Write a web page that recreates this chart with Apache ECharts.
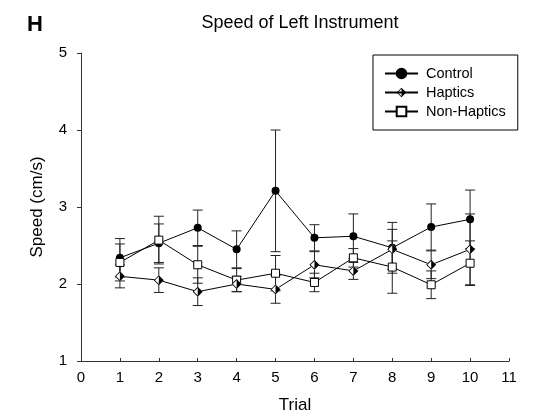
<!DOCTYPE html>
<html>
<head>
<meta charset="utf-8">
<script src="https://cdn.jsdelivr.net/npm/echarts@6/dist/echarts.min.js"></script>
<style>
  html, body { margin: 0; padding: 0; background: #fff; }
  #main { width: 537px; height: 419px; }
</style>
</head>
<body>
<div id="main"></div>
<script>
// data (mean and error per trial)
var trials = [1, 2, 3, 4, 5, 6, 7, 8, 9, 10];
var controlMean = [2.34, 2.53, 2.73, 2.45, 3.21, 2.60, 2.62, 2.47, 2.74, 2.84];
var controlErr = [0.25, 0.25, 0.23, 0.24, 0.79, 0.17, 0.29, 0.33, 0.30, 0.38];
var hapticsMean = [2.10, 2.05, 1.90, 2.00, 1.93, 2.25, 2.17, 2.45, 2.25, 2.45];
var hapticsErr = [0.15, 0.16, 0.18, 0.10, 0.18, 0.17, 0.11, 0.26, 0.18, 0.46];
var nonHapticsMean = [2.28, 2.57, 2.25, 2.05, 2.14, 2.02, 2.34, 2.22, 1.99, 2.27];
var nonHapticsErr = [0.24, 0.31, 0.24, 0.15, 0.23, 0.12, 0.12, 0.34, 0.18, 0.29];

var FONT = 'Arial, "Liberation Sans", sans-serif';
// diamond with right half black, left half hollow
var HALF_DIAMOND = 'path://M0,-10L10,0L0,10L-10,0ZM0,-7.6L-7.6,0L0,7.6Z';

function pts(vals) {
    return trials.map(function (t, i) { return [t, vals[i]]; });
}
function bars(vals, errs) {
    return trials.map(function (t, i) { return [t, vals[i] - errs[i], vals[i] + errs[i]]; });
}

function renderErr(params, api) {
    var x = api.value(0);
    var lo = api.coord([x, api.value(1)]);
    var hi = api.coord([x, api.value(2)]);
    var w = 5;
    var st = { stroke: '#222', lineWidth: 1 };
    return {
        type: 'group',
        children: [
            { type: 'line', shape: { x1: hi[0], y1: hi[1], x2: lo[0], y2: lo[1] }, style: st },
            { type: 'line', shape: { x1: hi[0] - w, y1: hi[1], x2: hi[0] + w, y2: hi[1] }, style: st },
            { type: 'line', shape: { x1: lo[0] - w, y1: lo[1], x2: lo[0] + w, y2: lo[1] }, style: st }
        ]
    };
}

function errSeries(vals, errs) {
    return {
        type: 'custom',
        name: 'err',
        z: 3,
        renderItem: renderErr,
        encode: { x: 0, y: [1, 2] },
        data: bars(vals, errs),
        silent: true
    };
}

var chart = echarts.init(document.getElementById('main'));

var option = {
    animation: false,
    textStyle: { fontFamily: FONT },
    title: [{
        text: 'Speed of Left Instrument',
        left: 295,
        textAlign: 'center',
        top: 9,
        textStyle: { fontFamily: FONT, fontSize: 18, fontWeight: 'normal', color: '#000' }
    }, {
        text: 'H',
        left: 22,
        top: 9,
        textStyle: { fontFamily: FONT, fontSize: 22, fontWeight: 'bold', color: '#000' }
    }],
    legend: {
        data: ['Control', 'Haptics', 'Non-Haptics'],
        orient: 'vertical',
        left: 373,
        top: 55,
        padding: [11, 12, 11, 11],
        itemWidth: 33,
        itemHeight: 12,
        itemGap: 4,
        borderColor: '#000',
        borderWidth: 1,
        borderRadius: 0,
        selectedMode: false,
        textStyle: { fontFamily: FONT, fontSize: 14.5, color: '#000', padding: [0, 0, 0, 3] }
    },
    grid: { left: 81, right: 28, top: 53, bottom: 57, containLabel: false },
    xAxis: {
        type: 'value',
        min: 0,
        max: 11,
        interval: 1,
        name: 'Trial',
        nameLocation: 'middle',
        nameGap: 36,
        nameTextStyle: { fontFamily: FONT, fontSize: 17, color: '#000' },
        axisLine: { lineStyle: { color: '#333', width: 1 } },
        axisTick: { inside: true, length: 3, lineStyle: { color: '#333' } },
        axisLabel: { margin: 9, fontFamily: FONT, fontSize: 15, color: '#000' },
        splitLine: { show: false }
    },
    yAxis: {
        type: 'value',
        min: 1,
        max: 5,
        interval: 1,
        name: 'Speed (cm/s)',
        nameLocation: 'middle',
        nameGap: 35,
        nameTextStyle: { fontFamily: FONT, fontSize: 17, color: '#000' },
        axisLine: { show: true, lineStyle: { color: '#333', width: 1 } },
        axisTick: { show: true, length: 4, lineStyle: { color: '#333' } },
        axisLabel: { margin: 14, fontFamily: FONT, fontSize: 15, color: '#000' },
        splitLine: { show: false }
    },
    series: [
        {
            name: 'Control', type: 'line', data: pts(controlMean), z: 2,
            showSymbol: false, symbol: 'circle', symbolSize: 8,
            lineStyle: { color: '#000', width: 1 },
            itemStyle: { color: '#000', borderColor: '#000', borderWidth: 1 }
        },
        {
            name: 'Haptics', type: 'line', data: pts(hapticsMean), z: 2,
            showSymbol: false, symbol: HALF_DIAMOND, symbolSize: 10,
            lineStyle: { color: '#000', width: 1 },
            itemStyle: { color: '#000', borderColor: '#000', borderWidth: 0 }
        },
        {
            name: 'Non-Haptics', type: 'line', data: pts(nonHapticsMean), z: 2,
            showSymbol: false, symbol: 'rect', symbolSize: 8,
            lineStyle: { color: '#000', width: 1 },
            itemStyle: { color: '#fff', borderColor: '#000', borderWidth: 1 }
        },
        errSeries(controlMean, controlErr),
        errSeries(hapticsMean, hapticsErr),
        errSeries(nonHapticsMean, nonHapticsErr),
        {
            name: 'ctrl-pts', type: 'scatter', data: pts(controlMean), z: 4,
            symbol: 'circle', symbolSize: 8, silent: true,
            itemStyle: { color: '#000', opacity: 1 }
        },
        {
            name: 'nh-pts', type: 'scatter', data: pts(nonHapticsMean), z: 4,
            symbol: 'rect', symbolSize: 8, silent: true,
            itemStyle: { color: '#fff', borderColor: '#000', borderWidth: 1, opacity: 1 }
        },
        {
            name: 'hap-bg', type: 'scatter', data: pts(hapticsMean), z: 4,
            symbol: 'diamond', symbolSize: 10, silent: true,
            itemStyle: { color: '#fff', opacity: 1 }
        },
        {
            name: 'hap-pts', type: 'scatter', data: pts(hapticsMean), z: 5,
            symbol: HALF_DIAMOND, symbolSize: 10, silent: true,
            itemStyle: { color: '#000', opacity: 1 }
        }
    ]
};

chart.setOption(option);
</script>
</body>
</html>
